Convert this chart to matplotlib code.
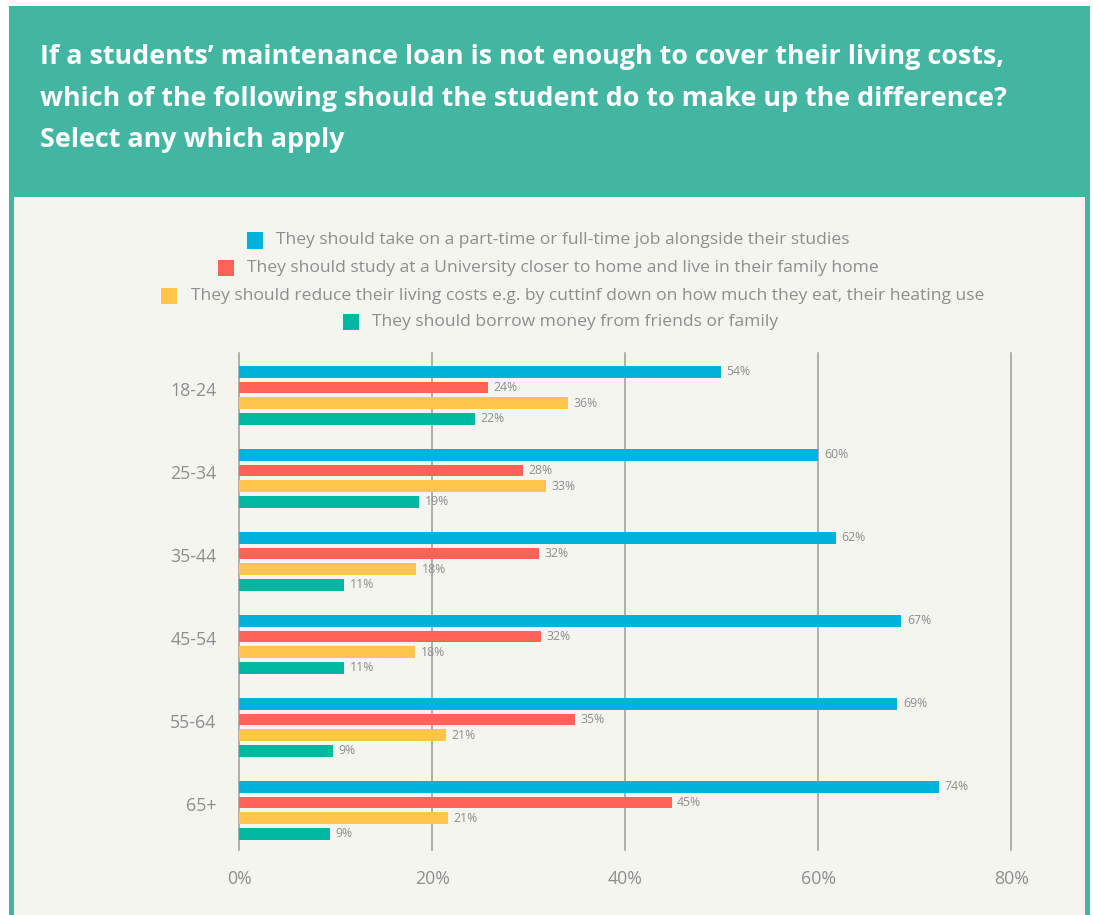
import matplotlib
matplotlib.use("Agg")
import matplotlib.pyplot as plt
from matplotlib.patches import Rectangle
import numpy as np

W, H = 1093, 915

# ---- data ----
groups = ["18-24", "25-34", "35-44", "45-54", "55-64", "65+"]
series_names = [
    "They should take on a part-time or full-time job alongside their studies",
    "They should study at a University closer to home and live in their family home",
    "They should reduce their living costs e.g. by cuttinf down on how much they eat, their heating use",
    "They should borrow money from friends or family",
]
# bar lengths as drawn (percent)
job_vals = [49.9, 60.0, 61.8, 68.6, 68.2, 72.5]
closer_vals = [25.8, 29.4, 31.1, 31.3, 34.8, 44.8]
reduce_vals = [34.1, 31.8, 18.3, 18.2, 21.4, 21.6]
borrow_vals = [24.4, 18.65, 10.85, 10.85, 9.7, 9.4]
# printed labels
job_labels = ["54%", "60%", "62%", "67%", "69%", "74%"]
closer_labels = ["24%", "28%", "32%", "32%", "35%", "45%"]
reduce_labels = ["36%", "33%", "18%", "18%", "21%", "21%"]
borrow_labels = ["22%", "19%", "11%", "11%", "9%", "9%"]
x_ticks = [0, 20, 40, 60, 80]
x_tick_labels = ["0%", "20%", "40%", "60%", "80%"]

colors = ["#00B3DB", "#FF6357", "#FFC54C", "#00B8A0"]
HEADER = "#42B6A1"
PANEL = "#F5F5F0"
GRAY = "#8E8E8E"
FONT = "Open Sans"

def fx(px):
    return px / W

def fy(py):
    return 1 - py / H

fig = plt.figure(figsize=(W / 100, H / 100), dpi=100)
fig.patch.set_facecolor("white")

# frame
fig.add_artist(Rectangle((fx(9), 0), fx(1090) - fx(9), fy(6), transform=fig.transFigure,
                         facecolor=HEADER, edgecolor="none", zorder=0))
fig.add_artist(Rectangle((fx(14), 0), fx(1085) - fx(14), fy(197), transform=fig.transFigure,
                         facecolor=PANEL, edgecolor="none", zorder=0))

# title
title_lines = [
    "If a students\u2019 maintenance loan is not enough to cover their living costs,",
    "which of the following should the student do to make up the difference?",
    "Select any which apply",
]
for i, line in enumerate(title_lines):
    fig.text(fx(40), fy(57 + i * 41.5), line, color="white", fontsize=19.4,
             fontweight="bold", family=FONT, va="center", ha="left")

# legend
leg_rows_y = [240.5, 268.3, 296, 321.7]
leg_centers = [548.3, 548.3, 572.9, 560.7]
fig.canvas.draw()
renderer = fig.canvas.get_renderer()
for name, c, y, cx in zip(series_names, colors, leg_rows_y, leg_centers):
    t = fig.text(0, fy(y), name, color=GRAY, fontsize=12.6, family=FONT,
                 va="center", ha="left")
    wpx = t.get_window_extent(renderer).width
    total = 29.5 + wpx
    tx = cx - total / 2 + 29.5
    t.set_x(fx(tx))
    fig.add_artist(Rectangle((fx(tx - 29.5), fy(y + 8)), 16 / W, 16 / H,
                             transform=fig.transFigure, facecolor=c, edgecolor="none"))

# axes
x0, x1 = 239.3, 1011.3
ytop, ybot = 353, 850
ax = fig.add_axes([fx(x0), fy(ybot), (x1 - x0) / W, (ybot - ytop) / H])
ax.set_facecolor("none")
pitch = 15.7 / 83
bh = 11.7 / 83
y = np.arange(len(groups))
vals = [job_vals, closer_vals, reduce_vals, borrow_vals]
labs = [job_labels, closer_labels, reduce_labels, borrow_labels]
offsets = [-1.5, -0.5, 0.5, 1.5]
for v, lb, c, o in zip(vals, labs, colors, offsets):
    ypos = y + o * pitch
    ax.barh(ypos, v, height=bh, color=c, zorder=3)
    for yy, vv, t in zip(ypos, v, lb):
        ax.annotate(t, (vv, yy), xytext=(5.5, 0), textcoords="offset pixels",
                    va="center", ha="left", fontsize=8.8, color=GRAY, family=FONT,
                    zorder=4)

ax.set_xlim(0, 80)
ax.set_ylim(5 + 39.7 / 83, -42.3 / 83)
for xv in x_ticks:
    ax.axvline(xv, color="#9C9C9C", lw=1.1, zorder=1, clip_on=False)
for s in ax.spines.values():
    s.set_visible(False)
ax.set_xticks(x_ticks)
ax.set_xticklabels(x_tick_labels, fontsize=12.8, color=GRAY, family=FONT)
ax.set_yticks(y - 0.075)
ax.set_yticklabels(groups, fontsize=12.8, color=GRAY, family=FONT)
ax.tick_params(axis="x", length=0, pad=14.5)
ax.tick_params(axis="y", length=0, pad=16.5)

fig.savefig("out.png", dpi=100, facecolor=fig.get_facecolor())
